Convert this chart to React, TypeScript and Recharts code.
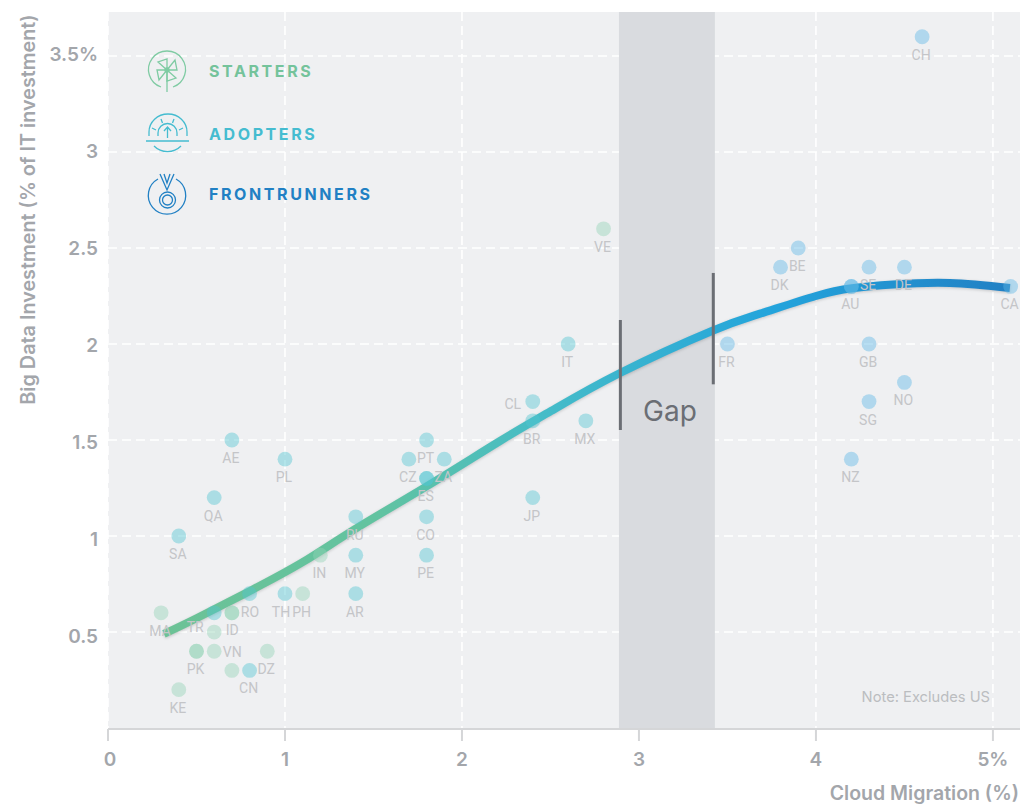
import {
  CartesianGrid,
  ComposedChart,
  Line,
  ReferenceArea,
  ReferenceLine,
  Scatter,
  XAxis,
  YAxis,
} from "recharts"

type Country = { x: number; y: number; code: string }

const starters: Country[] = [
  { x: 0.3, y: 0.6, code: "MA" },
  { x: 0.4, y: 0.2, code: "KE" },
  { x: 0.5, y: 0.4, code: "PK" },
  { x: 0.5, y: 0.4, code: "" },
  { x: 0.6, y: 0.4, code: "VN" },
  { x: 0.6, y: 0.5, code: "ID" },
  { x: 0.7, y: 0.3, code: "" },
  { x: 0.7, y: 0.6, code: "RO" },
  { x: 0.7, y: 0.6, code: "" },
  { x: 0.9, y: 0.4, code: "DZ" },
  { x: 1.1, y: 0.7, code: "PH" },
  { x: 1.2, y: 0.9, code: "IN" },
  { x: 2.8, y: 2.6, code: "VE" },
]

const adopters: Country[] = [
  { x: 0.4, y: 1.0, code: "SA" },
  { x: 0.6, y: 0.6, code: "TR" },
  { x: 0.6, y: 1.2, code: "QA" },
  { x: 0.7, y: 1.5, code: "AE" },
  { x: 0.8, y: 0.3, code: "CN" },
  { x: 0.8, y: 0.7, code: "" },
  { x: 1.0, y: 0.7, code: "TH" },
  { x: 1.0, y: 1.4, code: "PL" },
  { x: 1.4, y: 0.7, code: "AR" },
  { x: 1.4, y: 0.9, code: "MY" },
  { x: 1.4, y: 1.1, code: "RU" },
  { x: 1.7, y: 1.4, code: "CZ" },
  { x: 1.8, y: 0.9, code: "PE" },
  { x: 1.8, y: 1.1, code: "CO" },
  { x: 1.8, y: 1.3, code: "ES" },
  { x: 1.8, y: 1.3, code: "" },
  { x: 1.8, y: 1.5, code: "PT" },
  { x: 1.9, y: 1.4, code: "ZA" },
  { x: 2.4, y: 1.2, code: "JP" },
  { x: 2.4, y: 1.6, code: "BR" },
  { x: 2.4, y: 1.7, code: "CL" },
  { x: 2.6, y: 2.0, code: "IT" },
  { x: 2.7, y: 1.6, code: "MX" },
]

const frontrunners: Country[] = [
  { x: 3.5, y: 2.0, code: "FR" },
  { x: 3.8, y: 2.4, code: "DK" },
  { x: 3.9, y: 2.5, code: "BE" },
  { x: 4.2, y: 1.4, code: "NZ" },
  { x: 4.2, y: 2.3, code: "AU" },
  { x: 4.2, y: 2.3, code: "" },
  { x: 4.3, y: 1.7, code: "SG" },
  { x: 4.3, y: 2.0, code: "GB" },
  { x: 4.3, y: 2.4, code: "SE" },
  { x: 4.5, y: 1.8, code: "NO" },
  { x: 4.5, y: 2.4, code: "DE" },
  { x: 4.6, y: 3.6, code: "CH" },
  { x: 5.1, y: 2.3, code: "CA" },
]

const trend = [
  { x: 0.316, y: 0.49 },
  { x: 0.503, y: 0.573 },
  { x: 0.802, y: 0.714 },
  { x: 1.102, y: 0.865 },
  { x: 1.395, y: 1.036 },
  { x: 1.802, y: 1.26 },
  { x: 2.215, y: 1.495 },
  { x: 2.503, y: 1.651 },
  { x: 2.893, y: 1.849 },
  { x: 3.412, y: 2.068 },
  { x: 3.684, y: 2.158 },
  { x: 4.0, y: 2.25 },
  { x: 4.203, y: 2.29 },
  { x: 4.435, y: 2.31 },
  { x: 4.757, y: 2.318 },
  { x: 5.096, y: 2.292 },
]

const xTicks = [0, 1, 2, 3, 4, 5]
const yTicks = [0.5, 1, 1.5, 2, 2.5, 3, 3.5]

// labels that don't sit straight under their dot
const labelNudge: Record<string, [number, number]> = {
  ID: [18, -2],
  VN: [18, 1],
  RO: [18, -1],
  TR: [-19, 14],
  CL: [-20, 2],
  TH: [-4, 18],
}

// the y tick labels drift a little from their gridlines in the original
const yLabelShift: Record<number, number> = {
  3.5: -2,
  3: -1,
  2.5: 0,
  2: 0.5,
  1.5: 1.5,
  1: 2.5,
  0.5: 3.5,
}

const FONT = "Inter, Roboto, sans-serif"
const GREY = "#a3a6ab"

function CountryDot({ cx, cy, payload, fill }: any) {
  const code = payload.code
  const nudge = labelNudge[code] ?? [-1, 18]
  return (
    <g>
      <circle cx={cx} cy={cy} r={7.4} fill={fill} fillOpacity={0.43} />
      {code && (
        <text
          x={cx + nudge[0]}
          y={cy + nudge[1] + 5}
          textAnchor="middle"
          fontFamily="Roboto, sans-serif"
          fontSize={14}
          fill="#c4c5c8"
        >
          {code}
        </text>
      )}
    </g>
  )
}

function XTick({ x, y, payload }: any) {
  const v = payload.value
  return (
    <text
      x={v === 0 ? x + 2 : x}
      y={y + 17}
      textAnchor="middle"
      fill={GREY}
      fontSize={19}
      fontWeight={600}
      fontFamily={FONT}
    >
      {v === 5 ? "5%" : v}
    </text>
  )
}

function YTick({ y, payload }: any) {
  const v = payload.value
  return (
    <text
      x={98}
      y={y + 7 + yLabelShift[v]}
      textAnchor="end"
      fill={GREY}
      fontSize={19}
      fontWeight={600}
      fontFamily={FONT}
    >
      {v === 3.5 ? "3.5%" : v}
    </text>
  )
}

function LegendIcons() {
  return (
    <g fill="none" strokeWidth={1.3}>
      <g stroke="#7fcba3">
        <path d="M161 87 A18.5 18.5 0 1 1 173 87" />
        <path d="M167 70 V92" />
        <path d="M167 70 L158 62 L167 59 Z M167 70 L175 60 L177 70 Z M167 70 L176 78 L167 81 Z M167 70 L159 80 L157 70 Z" />
        <circle cx={167} cy={70} r={2} />
      </g>
      <g stroke="#45bcd0">
        <path d="M149 136 V132 A19 18 0 0 1 187 132 V136" />
        <path d="M158 136 V133 A9.5 9.5 0 0 1 177 133 V136" />
        <path d="M146 141 H189" strokeWidth={1.6} />
        <path d="M154 146 A19 19 0 0 0 181 146" />
        <path d="M167.5 138 V128 M164 131 L167.5 127 L171 131" />
        <path d="M152 128 L156 130 M161 119 L162.5 123 M174 119 L172.5 123 M183 128 L179 130" />
      </g>
      <g stroke="#2180c4">
        <path d="M158 179 A18.7 18.7 0 1 0 176 179" />
        <path d="M160 174 L167 190 L174 174 M164 174 L167 183 L170 174" />
        <circle cx={167.5} cy={200} r={8} />
        <circle cx={167.5} cy={200} r={5} />
      </g>
    </g>
  )
}

export default function App() {
  return (
    <div style={{ position: "absolute", left: 0, top: 0, width: 1022, height: 805 }}>
      <ComposedChart
        width={1022}
        height={805}
        margin={{ top: 12, right: 2, bottom: 0, left: 0 }}
      >
        <defs>
          <linearGradient id="trendStroke" x1="0" y1="0" x2="1" y2="0">
            <stop offset="0%" stopColor="#6cc296" />
            <stop offset="25%" stopColor="#62c3a0" />
            <stop offset="45%" stopColor="#45bcc8" />
            <stop offset="72%" stopColor="#23a4dc" />
            <stop offset="100%" stopColor="#2180c4" />
          </linearGradient>
        </defs>
        <CartesianGrid
          fill="#eff0f2"
          stroke="#ffffff"
          strokeWidth={1.6}
          strokeDasharray="9 5"
          horizontalValues={yTicks}
          verticalValues={xTicks}
        />
        <XAxis
          type="number"
          dataKey="x"
          domain={[0, 5.153]}
          ticks={xTicks}
          height={76}
          tick={<XTick />}
          tickSize={12}
          tickMargin={8}
          tickLine={{ stroke: "#d5d6d8", strokeWidth: 2 }}
          axisLine={{ stroke: "#d5d6d8", strokeWidth: 2 }}
          interval={0}
        />
        <YAxis
          type="number"
          dataKey="y"
          domain={[-0.005, 3.729]}
          ticks={yTicks}
          width={108}
          tick={<YTick />}
          tickLine={false}
          axisLine={false}
          interval={0}
        />
        <ReferenceArea x1={2.887} x2={3.429} fill="#d9dbdf" fillOpacity={1} stroke="none" />
        <Scatter
          data={starters}
          dataKey="y"
          fill="#92d3b4"
          isAnimationActive={false}
          shape={<CountryDot fill="#92d3b4" />}
        />
        <Scatter
          data={adopters}
          dataKey="y"
          fill="#51c4d1"
          isAnimationActive={false}
          shape={<CountryDot fill="#51c4d1" />}
        />
        <Scatter
          data={frontrunners}
          dataKey="y"
          fill="#5cb8e6"
          isAnimationActive={false}
          shape={<CountryDot fill="#5cb8e6" />}
        />
        <Line
          data={trend}
          dataKey="y"
          type="natural"
          stroke="url(#trendStroke)"
          strokeWidth={8}
          dot={false}
          activeDot={false}
          isAnimationActive={false}
          style={{ filter: "drop-shadow(0 1px 1.5px rgba(0,0,0,0.18))" }}
        />
        <ReferenceLine
          segment={[
            { x: 2.895, y: 2.125 },
            { x: 2.895, y: 1.552 },
          ]}
          stroke="#6b6e74"
          strokeWidth={3}
        />
        <ReferenceLine
          segment={[
            { x: 3.42, y: 2.37 },
            { x: 3.42, y: 1.79 },
          ]}
          stroke="#6b6e74"
          strokeWidth={3}
        />
      </ComposedChart>
      <svg
        width={1022}
        height={805}
        style={{ position: "absolute", left: 0, top: 0, pointerEvents: "none" }}
        fontFamily={FONT}
      >
        <LegendIcons />
        <g fontSize={16} fontWeight={700} letterSpacing={2.6}>
          <text x={209} y={76.5} fill="#74c39b">STARTERS</text>
          <text x={209} y={139.5} fill="#45bcd0">ADOPTERS</text>
          <text x={209} y={199.5} fill="#2180c4">FRONTRUNNERS</text>
        </g>
        <text x={670} y={421} textAnchor="middle" fontSize={28} fill="#6b6e74">Gap</text>
        <text x={990} y={702} textAnchor="end" fontSize={14.7} fill="#bbbdc0">Note: Excludes US</text>
        <text x={1019} y={800} textAnchor="end" fontSize={19.5} fontWeight={600} fill={GREY}>
          Cloud Migration (%)
        </text>
        <text
          transform="translate(35,209.5) rotate(-90)"
          textAnchor="middle"
          fontSize={19.8}
          fontWeight={600}
          fill={GREY}
        >
          Big Data Investment (% of IT investment)
        </text>
      </svg>
    </div>
  )
}
